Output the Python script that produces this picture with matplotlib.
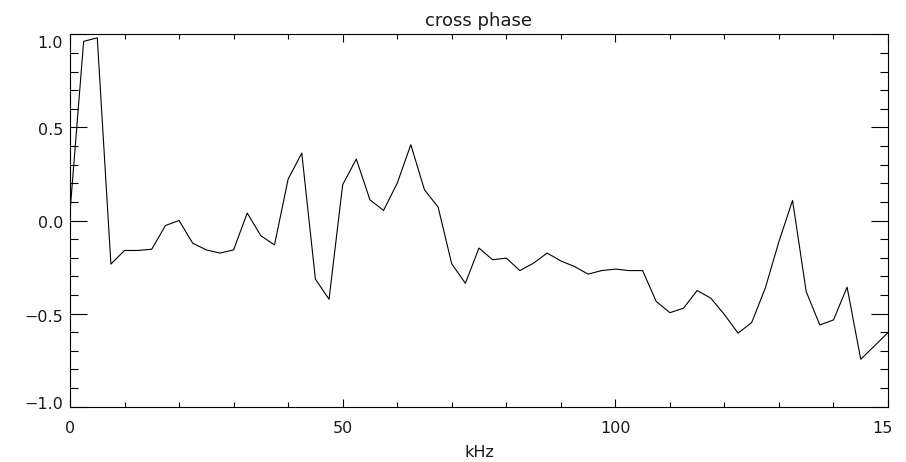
import numpy as np
import matplotlib
matplotlib.use('Agg')
import matplotlib.pyplot as plt
from matplotlib.transforms import ScaledTranslation, Bbox, TransformedBbox

# Frequency axis (kHz), one sample every 2.5 kHz
freq_step = 2.5
freq_max = 150.0

# Cross phase values, one per 2.5 kHz
phase = [0.045, 0.962, 0.981, -0.234, -0.161, -0.161, -0.154, -0.027, 0.0, -0.122,
         -0.158, -0.175, -0.158, 0.040, -0.082, -0.131, 0.222, 0.362, -0.315, -0.423,
         0.192, 0.330, 0.111, 0.054, 0.200, 0.407, 0.165, 0.072, -0.233, -0.337,
         -0.148, -0.211, -0.202, -0.269, -0.229, -0.175, -0.217, -0.247, -0.288, -0.269,
         -0.261, -0.269, -0.269, -0.435, -0.495, -0.471, -0.376, -0.417, -0.505, -0.605,
         -0.548, -0.363, -0.113, 0.108, -0.382, -0.561, -0.534, -0.358, -0.745, -0.674,
         -0.602]
freq = np.arange(len(phase)) * freq_step

x_ticks = [0, 50, 100, 150]
x_ticklabels = ['0', '50', '100', '150']
y_ticks = [-1.0, -0.5, 0.0, 0.5, 1.0]
y_ticklabels = ['\u22121.0', '\u22120.5', '0.0', '0.5', '1.0']

title = 'cross phase'
xlabel = 'kHz'

txt_color = '#1a1a1a'
W, H = 906, 462

fig = plt.figure(figsize=(W / 100, H / 100), dpi=100)
ax = fig.add_axes([70 / W, 1 - 406.7 / H, (888 - 70) / W, (406.7 - 34.3) / H])

ax.plot(freq, phase, color='k', lw=0.8)

ax.set_xlim(0, freq_max)
ax.set_ylim(-1.0, 1.0)

ax.set_xticks(x_ticks)
ax.set_xticklabels(x_ticklabels)
ax.set_xticks(np.arange(0, 151, 10), minor=True)
ax.set_yticks(y_ticks)
ax.set_yticklabels(y_ticklabels)
ax.set_yticks(np.arange(-1.0, 1.01, 0.1), minor=True)

# IDL-ish ticks: inward on all four sides
ax.tick_params(which='both', direction='in', top=True, right=True,
               color='k', width=0.8, labelcolor=txt_color, labelsize=11.5)
ax.tick_params(axis='x', which='major', length=6, pad=10)
ax.tick_params(axis='x', which='minor', length=3.6)
ax.tick_params(axis='y', which='major', length=12, pad=5)
ax.tick_params(axis='y', which='minor', length=6)

for sp in ax.spines.values():
    sp.set_linewidth(0.8)
    sp.set_color('k')

ax.set_title(title, fontsize=13, color=txt_color, pad=6)
ax.set_xlabel(xlabel, fontsize=11.5, color=txt_color, labelpad=7)

fig.canvas.draw()

# nudge y labels like the reference (end labels pushed inside the box)
y_shift = [3.4, -2, -2, -2, -7.7]  # pixels, +up
for lab, dy in zip(ax.yaxis.get_majorticklabels(), y_shift):
    lab.set_transform(lab.get_transform() + ScaledTranslation(0, dy / 100, fig.dpi_scale_trans))

# the last x label is cut at the right in the reference
last = ax.xaxis.get_majorticklabels()[-1]
last.set_clip_box(TransformedBbox(Bbox.from_extents(0, 0, 891 / W, 1), fig.transFigure))
last.set_clip_on(True)

fig.savefig('out.png', dpi=100)
